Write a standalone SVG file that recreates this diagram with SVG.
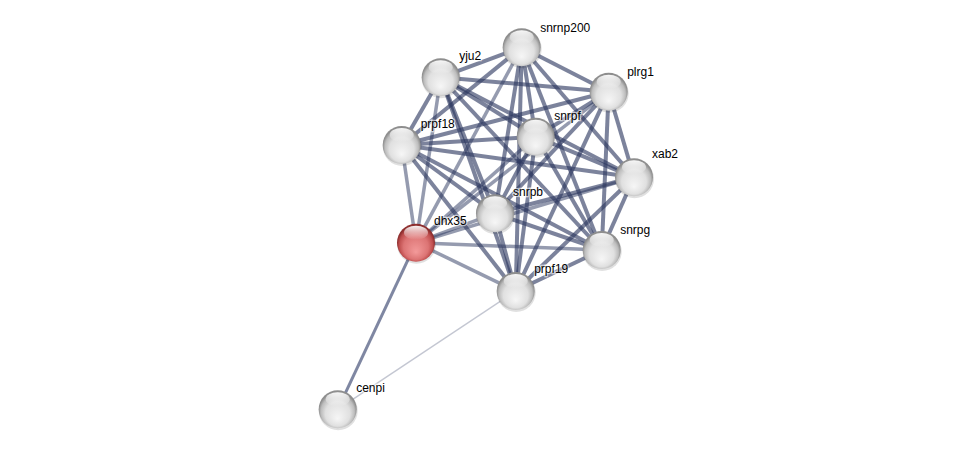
<svg xmlns="http://www.w3.org/2000/svg" width="976" height="455" viewBox="0 0 976 455">
<style>
.e{stroke:#2c3760;stroke-width:4;stroke-opacity:0.62;fill:none}
.d{stroke:#2c3760;stroke-width:3.5;stroke-opacity:0.5;fill:none}
.l{font-family:"Liberation Sans",Arial,sans-serif;font-size:12px;fill:#000;stroke:#fff;stroke-width:2.5;stroke-opacity:0.6;paint-order:stroke}
.n{fill:url(#gw)}
.r{fill:url(#gr)}
.h{fill:url(#hl)}
.s{fill:#000;fill-opacity:0.12}
</style>
<defs>
<radialGradient id="gw" cx="0.5" cy="0.55" r="0.5" fx="0.5" fy="0.75">
<stop offset="0" stop-color="#f6f6f6"/>
<stop offset="0.65" stop-color="#e0e0e0"/>
<stop offset="0.88" stop-color="#bdbdbd"/>
<stop offset="1" stop-color="#8e8e8e"/>
</radialGradient>
<radialGradient id="gr" cx="0.5" cy="0.55" r="0.5" fx="0.5" fy="0.75">
<stop offset="0" stop-color="#f39a9a"/>
<stop offset="0.65" stop-color="#dc7474"/>
<stop offset="0.88" stop-color="#bf4f4f"/>
<stop offset="1" stop-color="#8e2f2f"/>
</radialGradient>
<linearGradient id="hl" x1="0" y1="0" x2="0" y2="1">
<stop offset="0" stop-color="#fff" stop-opacity="0.95"/>
<stop offset="1" stop-color="#fff" stop-opacity="0"/>
</linearGradient>
</defs>
<rect width="976" height="455" fill="#fff"/>
<g id="edges">
<line x1="337.7" y1="409.3" x2="515.7" y2="291" stroke="#c4c7d2" stroke-width="1.5"/>
<line x1="337.7" y1="409.3" x2="416" y2="242.7" stroke="#7f87a2" stroke-width="3"/>
<line class="d" x1="416" y1="242.7" x2="401.7" y2="145"/>
<line class="d" x1="416" y1="242.7" x2="440.7" y2="77.3"/>
<line class="d" x1="416" y1="242.7" x2="521.7" y2="47.3"/>
<line class="d" x1="416" y1="242.7" x2="535.7" y2="136.7"/>
<line class="d" x1="416" y1="242.7" x2="608.7" y2="91.7"/>
<line class="d" x1="416" y1="242.7" x2="495" y2="213.3"/>
<line class="d" x1="416" y1="242.7" x2="634" y2="177.3"/>
<line class="d" x1="416" y1="242.7" x2="601.7" y2="250"/>
<line class="d" x1="416" y1="242.7" x2="515.7" y2="291"/>
<line class="e" x1="521.7" y1="47.3" x2="440.7" y2="77.3"/>
<line class="e" x1="521.7" y1="47.3" x2="608.7" y2="91.7"/>
<line class="e" x1="521.7" y1="47.3" x2="401.7" y2="145"/>
<line class="e" x1="521.7" y1="47.3" x2="535.7" y2="136.7"/>
<line class="e" x1="521.7" y1="47.3" x2="634" y2="177.3"/>
<line class="e" x1="521.7" y1="47.3" x2="495" y2="213.3"/>
<line class="e" x1="521.7" y1="47.3" x2="601.7" y2="250"/>
<line class="e" x1="521.7" y1="47.3" x2="515.7" y2="291"/>
<line class="e" x1="440.7" y1="77.3" x2="608.7" y2="91.7"/>
<line class="e" x1="440.7" y1="77.3" x2="401.7" y2="145"/>
<line class="e" x1="440.7" y1="77.3" x2="535.7" y2="136.7"/>
<line class="e" x1="440.7" y1="77.3" x2="634" y2="177.3"/>
<line class="e" x1="440.7" y1="77.3" x2="495" y2="213.3"/>
<line class="e" x1="440.7" y1="77.3" x2="601.7" y2="250"/>
<line class="e" x1="440.7" y1="77.3" x2="515.7" y2="291"/>
<line class="e" x1="608.7" y1="91.7" x2="401.7" y2="145"/>
<line class="e" x1="608.7" y1="91.7" x2="535.7" y2="136.7"/>
<line class="e" x1="608.7" y1="91.7" x2="634" y2="177.3"/>
<line class="e" x1="608.7" y1="91.7" x2="495" y2="213.3"/>
<line class="e" x1="608.7" y1="91.7" x2="601.7" y2="250"/>
<line class="e" x1="608.7" y1="91.7" x2="515.7" y2="291"/>
<line class="e" x1="401.7" y1="145" x2="535.7" y2="136.7"/>
<line class="e" x1="401.7" y1="145" x2="634" y2="177.3"/>
<line class="e" x1="401.7" y1="145" x2="495" y2="213.3"/>
<line class="e" x1="401.7" y1="145" x2="601.7" y2="250"/>
<line class="e" x1="401.7" y1="145" x2="515.7" y2="291"/>
<line class="e" x1="535.7" y1="136.7" x2="634" y2="177.3"/>
<line class="e" x1="535.7" y1="136.7" x2="495" y2="213.3"/>
<line class="e" x1="535.7" y1="136.7" x2="601.7" y2="250"/>
<line class="e" x1="535.7" y1="136.7" x2="515.7" y2="291"/>
<line class="e" x1="634" y1="177.3" x2="495" y2="213.3"/>
<line class="e" x1="634" y1="177.3" x2="601.7" y2="250"/>
<line class="e" x1="634" y1="177.3" x2="515.7" y2="291"/>
<line class="e" x1="495" y1="213.3" x2="601.7" y2="250"/>
<line class="e" x1="495" y1="213.3" x2="515.7" y2="291"/>
<line class="e" x1="601.7" y1="250" x2="515.7" y2="291"/>
</g>
<g id="node-snrnp200" transform="translate(521.7 47.3)">
<circle class="s" cx="0.5" cy="1.5" r="19.5"/>
<circle class="n" r="19"/>
<ellipse class="h" cx="0" cy="-10" rx="12" ry="7"/>
<text class="l" x="18.5" y="-15">snrnp200</text>
</g>
<g id="node-yju2" transform="translate(440.7 77.3)">
<circle class="s" cx="0.5" cy="1.5" r="19.5"/>
<circle class="n" r="19"/>
<ellipse class="h" cx="0" cy="-10" rx="12" ry="7"/>
<text class="l" x="18.5" y="-17">yju2</text>
</g>
<g id="node-plrg1" transform="translate(608.7 91.7)">
<circle class="s" cx="0.5" cy="1.5" r="19.5"/>
<circle class="n" r="19"/>
<ellipse class="h" cx="0" cy="-10" rx="12" ry="7"/>
<text class="l" x="18.5" y="-16">plrg1</text>
</g>
<g id="node-prpf18" transform="translate(401.7 145)">
<circle class="s" cx="0.5" cy="1.5" r="19.5"/>
<circle class="n" r="19"/>
<ellipse class="h" cx="0" cy="-10" rx="12" ry="7"/>
<text class="l" x="19" y="-17">prpf18</text>
</g>
<g id="node-snrpf" transform="translate(535.7 136.7)">
<circle class="s" cx="0.5" cy="1.5" r="19.5"/>
<circle class="n" r="19"/>
<ellipse class="h" cx="0" cy="-10" rx="12" ry="7"/>
<text class="l" x="18.5" y="-17">snrpf</text>
</g>
<g id="node-xab2" transform="translate(634 177.3)">
<circle class="s" cx="0.5" cy="1.5" r="19.5"/>
<circle class="n" r="19"/>
<ellipse class="h" cx="0" cy="-10" rx="12" ry="7"/>
<text class="l" x="18" y="-19">xab2</text>
</g>
<g id="node-snrpb" transform="translate(495 213.3)">
<circle class="s" cx="0.5" cy="1.5" r="19.5"/>
<circle class="n" r="19"/>
<ellipse class="h" cx="0" cy="-10" rx="12" ry="7"/>
<text class="l" x="18" y="-17">snrpb</text>
</g>
<g id="node-dhx35" transform="translate(416 242.7)">
<circle class="s" cx="0.5" cy="1.5" r="19.5"/>
<circle class="r" r="19"/>
<ellipse class="h" cx="0" cy="-10" rx="12" ry="7"/>
<text class="l" x="18" y="-18">dhx35</text>
</g>
<g id="node-snrpg" transform="translate(601.7 250)">
<circle class="s" cx="0.5" cy="1.5" r="19.5"/>
<circle class="n" r="19"/>
<ellipse class="h" cx="0" cy="-10" rx="12" ry="7"/>
<text class="l" x="18.5" y="-16">snrpg</text>
</g>
<g id="node-prpf19" transform="translate(515.7 291)">
<circle class="s" cx="0.5" cy="1.5" r="19.5"/>
<circle class="n" r="19"/>
<ellipse class="h" cx="0" cy="-10" rx="12" ry="7"/>
<text class="l" x="18.5" y="-18">prpf19</text>
</g>
<g id="node-cenpi" transform="translate(337.7 409.3)">
<circle class="s" cx="0.5" cy="1.5" r="19.5"/>
<circle class="n" r="19"/>
<ellipse class="h" cx="0" cy="-10" rx="12" ry="7"/>
<text class="l" x="18.5" y="-17">cenpi</text>
</g>
</svg>
